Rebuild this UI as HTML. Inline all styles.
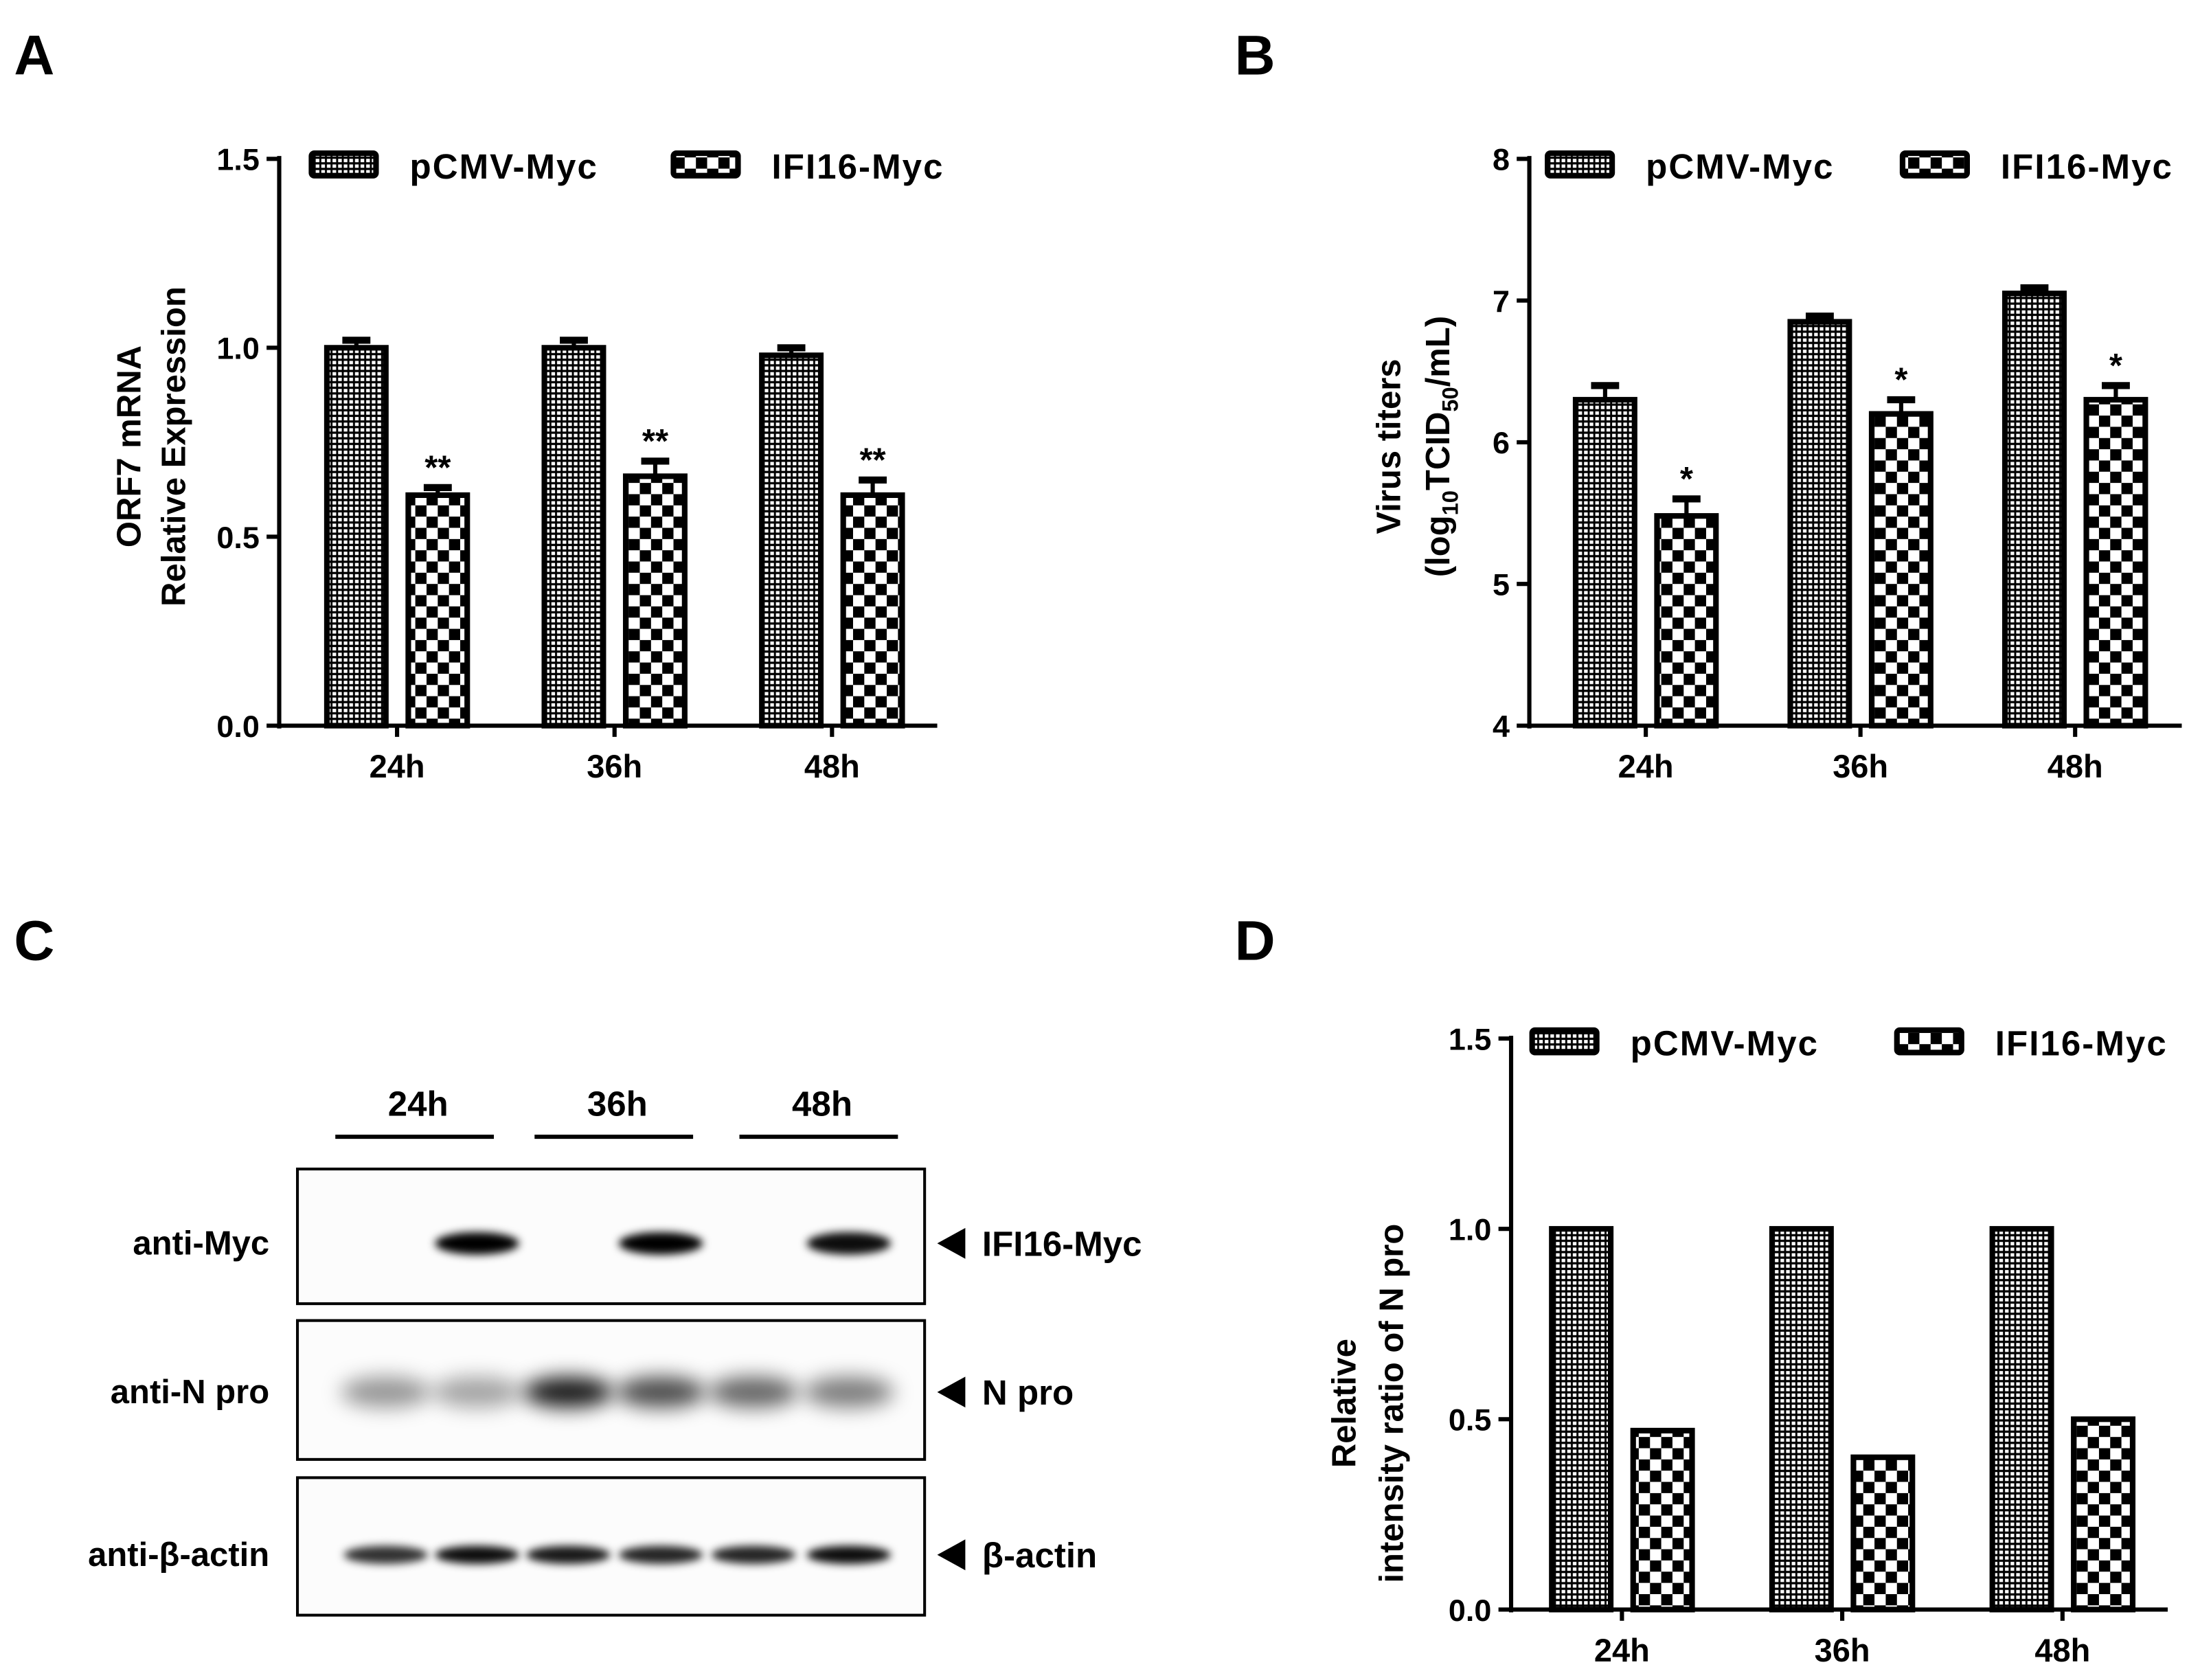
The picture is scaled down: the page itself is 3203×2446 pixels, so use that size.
<!DOCTYPE html>
<html><head><meta charset="utf-8"><style>
html,body{margin:0;padding:0;background:#fff;}
svg{display:block;font-family:"Liberation Sans",Arial,sans-serif;font-weight:bold;}
</style></head><body>
<svg id="fig" width="3203" height="2446" viewBox="0 0 1568 1197" xmlns="http://www.w3.org/2000/svg">
<defs>
<pattern id="pFine" width="4" height="4" patternUnits="userSpaceOnUse"><rect width="4" height="4" fill="#000"/><rect x="1" y="1" width="2.6" height="2.4" fill="#fff"/></pattern>
<pattern id="pCheck" width="16" height="16" patternUnits="userSpaceOnUse"><rect width="16" height="16" fill="#fff"/><rect width="8" height="8" fill="#000"/><rect x="8" y="8" width="8" height="8" fill="#000"/></pattern>
<filter id="blur" x="-30%" y="-100%" width="160%" height="300%"><feGaussianBlur stdDeviation="3"/></filter>
<filter id="blur2" x="-30%" y="-100%" width="160%" height="300%"><feGaussianBlur stdDeviation="7"/></filter>
</defs>
<text x="10" y="53" font-size="40">A</text>
<text x="880" y="53" font-size="40">B</text>
<text x="10" y="684" font-size="40">C</text>
<text x="880" y="684" font-size="40">D</text>
<g id="gA"></g>
<g id="gB"></g>
<g id="gD"></g>
<g id="gC"></g>
</svg>
<script>
const categories = ["24h","36h","48h"];
const seriesNames = ["pCMV-Myc","IFI16-Myc"];
const aCtrl = [1.0,1.0,0.98];
const aCtrlErr = [0.02,0.02,0.02];
const aIfi = [0.61,0.66,0.61];
const aIfiErr = [0.02,0.04,0.04];
const aTicks = ["0.0","0.5","1.0","1.5"];
const bCtrl = [6.3,6.85,7.05];
const bCtrlErr = [0.1,0.04,0.04];
const bIfi = [5.48,6.2,6.3];
const bIfiErr = [0.12,0.1,0.1];
const bTicks = ["4","5","6","7","8"];
const dCtrl = [1.0,1.0,1.0];
const dIfi = [0.47,0.40,0.50];
const dTicks = ["0.0","0.5","1.0","1.5"];
const NS="http://www.w3.org/2000/svg";
function mk(p,tag,attrs,txt){const e=document.createElementNS(NS,tag);for(const k in attrs)e.setAttribute(k,attrs[k]);if(txt!==undefined)e.textContent=txt;p.appendChild(e);return e;}
function chart(g,o){
  const y=v=>o.y0-(v-o.vmin)/(o.vmax-o.vmin)*(o.y0-o.y1);
  mk(g,'line',{x1:o.ax,y1:o.y1-2,x2:o.ax,y2:o.y0+2,stroke:'#000','stroke-width':3});
  mk(g,'line',{x1:o.ax-1,y1:o.y0,x2:o.axEnd,y2:o.y0,stroke:'#000','stroke-width':3});
  o.ticks.forEach(t=>{const v=parseFloat(t);const yy=y(v);
    mk(g,'line',{x1:o.ax-9,y1:yy,x2:o.ax,y2:yy,stroke:'#000','stroke-width':3});
    const tl=mk(g,'text',{x:o.ax-14,y:yy+8,'font-size':22,'text-anchor':'end'},t);
    
    
  });
  categories.forEach((c,i)=>{
    const cx=o.cx0+i*o.step;
    mk(g,'line',{x1:cx,y1:o.y0,x2:cx,y2:o.y0+8,stroke:'#000','stroke-width':3});
    const xl=mk(g,'text',{x:cx,y:o.y0+37,'font-size':23,'text-anchor':'middle'},c);
    
    
    [[o.s1,o.e1,'pFine'],[o.s2,o.e2,'pCheck']].forEach((s,j)=>{
      const v=s[0][i];const x=cx+(j===0?-o.bw-8:8);
      if(s[1]){const e=s[1][i];
        mk(g,'line',{x1:x+o.bw/2,y1:y(v+e),x2:x+o.bw/2,y2:y(v),stroke:'#000','stroke-width':3});
        mk(g,'line',{x1:x+o.bw/2-10,y1:y(v+e),x2:x+o.bw/2+10,y2:y(v+e),stroke:'#000','stroke-width':5});
      }
      const r=mk(g,'rect',{x:x,y:y(v),width:o.bw,height:o.y0-y(v),fill:'url(#'+s[2]+')',stroke:'#000','stroke-width':4});
      
      
      if(j===1&&o.star){const st=mk(g,'text',{x:x+o.bw/2,y:y(v+(s[1]?s[1][i]:0))-6,'font-size':24,'text-anchor':'middle'},o.star);
        
        }
    });
  });
  seriesNames.forEach((n,j)=>{
    const lx=o.leg[j];
    const lb=mk(g,'rect',{x:lx,y:o.legY-8,width:46,height:16,rx:2,fill:'url(#'+(j?'pCheck':'pFine')+')',stroke:'#000','stroke-width':4});
    
    
    const lt=mk(g,'text',{x:lx+70,y:o.legY+10,'font-size':25,'letter-spacing':'1'},n);
    
    
  });
  o.ylab.forEach((l,k)=>{const t=mk(g,'text',{transform:`translate(${l[0]},${o.ylabY}) rotate(-90)`,'font-size':24,'text-anchor':'middle'});
    t.innerHTML=l[1];
    
    });
}
chart(document.getElementById('gA'),{ax:199,axEnd:668,y0:517,y1:113,vmin:0,vmax:1.5,ticks:aTicks,cx0:283,step:155,bw:42,
 s1:aCtrl,e1:aCtrlErr,s2:aIfi,e2:aIfiErr,star:'**',leg:[222,480],legY:117,ylabY:318,
 ylab:[[100,'ORF7 mRNA'],[132,'Relative Expression']]});
chart(document.getElementById('gB'),{ax:1090,axEnd:1555,y0:517,y1:113,vmin:4,vmax:8,ticks:bTicks,cx0:1173,step:153,bw:42,
 s1:bCtrl,e1:bCtrlErr,s2:bIfi,e2:bIfiErr,star:'*',leg:[1103,1356],legY:117,ylabY:318,
 ylab:[[998,'Virus titers'],[1033,'(log<tspan font-size="16" dy="6">10</tspan><tspan dy="-6">TCID</tspan><tspan font-size="16" dy="6">50</tspan><tspan dy="-6">/mL)</tspan>']]});
chart(document.getElementById('gD'),{ax:1077,axEnd:1545,y0:1147,y1:740,vmin:0,vmax:1.5,ticks:dTicks,cx0:1156,step:157,bw:42,
 s1:dCtrl,e1:null,s2:dIfi,e2:null,star:null,leg:[1092,1352],legY:742,ylabY:1000,
 ylab:[[966,'Relative'],[1000,'intensity ratio of  N pro']]});
const gC=document.getElementById('gC');
const lanes=[275,340,405,471,537,605];
const mycI=[0,1,0,1,0,0.95];
const npI=[0.4,0.35,0.9,0.7,0.6,0.5];
const actI=[0.8,0.95,0.9,0.85,0.85,0.95];
[[239,352,298],[381,494,440],[527,640,586]].forEach((h,i)=>{
  const l=mk(gC,'line',{x1:h[0],y1:810,x2:h[1],y2:810,stroke:'#000','stroke-width':3});
  
  const t=mk(gC,'text',{x:h[2],y:795,'font-size':25,'text-anchor':'middle'},categories[i]);
  
});
const boxes=[[833,929,'anti-Myc','IFI16-Myc',mycI,886,16,'blur',30],[941,1040,'anti-N pro','N pro',npI,992,22,'blur2',32],[1053,1151,'anti-β-actin','β-actin',actI,1108,13,'blur',30]];
boxes.forEach(b=>{
  const r=mk(gC,'rect',{x:212,y:b[0],width:447,height:b[1]-b[0],fill:'#fcfcfc',stroke:'#000','stroke-width':2});
  
  b[4].forEach((v,i)=>{if(v>0){const e=mk(gC,'ellipse',{cx:lanes[i],cy:b[5],rx:b[8],ry:b[6]/2,fill:'#000','fill-opacity':v,filter:'url(#'+b[7]+')'});
    }});
  const lt=mk(gC,'text',{x:192,y:b[5]+8,'font-size':24,'text-anchor':'end'},b[2]);
  
  const cy=b[5];
  const tri=mk(gC,'polygon',{points:`668,${cy} 688,${cy-11} 688,${cy+11}`,fill:'#000'});
  
  const pt=mk(gC,'text',{x:700,y:cy+9,'font-size':25},b[3]);
  
});
</script>
</body></html>
